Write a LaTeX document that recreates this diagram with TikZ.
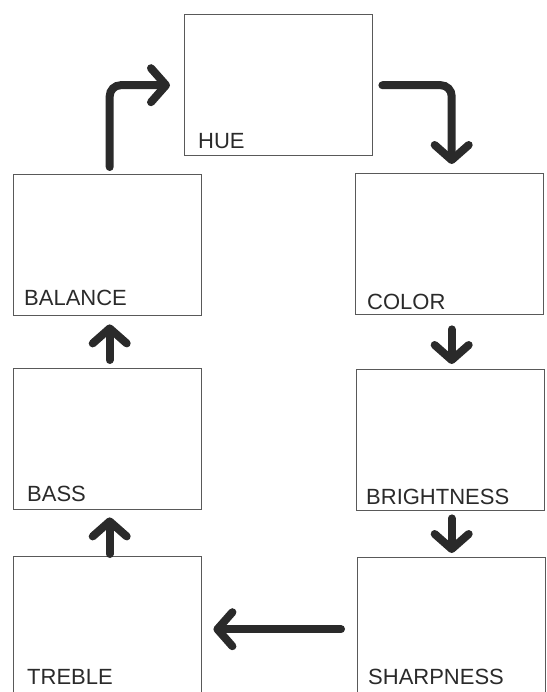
\documentclass[tikz,border=0pt]{standalone}
\usepackage{fontspec}
\setmainfont{Liberation Sans}
\usetikzlibrary{arrows.meta,calc}
\definecolor{boxgray}{gray}{0.35}
\definecolor{ink}{HTML}{2A2A2A}
\tikzset{
  panel/.style={draw=boxgray, line width=1.4pt, minimum width=188pt, minimum height=141pt, anchor=north west, inner sep=0pt},
  lbl/.style={anchor=base west, inner sep=0pt, text=ink, font=\fontsize{22}{24}\selectfont},
  arr/.style={draw=ink, line width=8pt, line cap=round, rounded corners=11pt,
    -{Straight Barb[length=15pt,width=34pt,line cap=round,line join=round]}}
}
\begin{document}
\begin{tikzpicture}[x=1pt,y=-1pt]
\useasboundingbox (0,0) rectangle (546,692);
\clip (0,0) rectangle (546,692);
% panels
\node[panel] (hue) at (184,14) {};
\node[panel] (bal) at (13,174) {};
\node[panel] (col) at (355,173) {};
\node[panel] (bass) at (13,368) {};
\node[panel] (bri) at (356,369) {};
\node[panel] (tre) at (13,556) {};
\node[panel] (sha) at (357,557) {};
% labels
\node[lbl] (lhue) at ($(hue.south west)+(14,-8)$) {HUE};
\node[lbl] (lbal) at ($(bal.south west)+(11,-11)$) {BALANCE};
\node[lbl] (lcol) at ($(col.south west)+(12,-6)$) {COLOR};
\node[lbl] (lbass) at ($(bass.south west)+(14,-9)$) {BASS};
\node[lbl] (lbri) at ($(bri.south west)+(10,-7)$) {BRIGHTNESS};
\node[lbl] (ltre) at ($(tre.south west)+(14,-14)$) {TREBLE};
\node[lbl] (lsha) at ($(sha.south west)+(11,-15)$) {SHARPNESS};
% connectors
\draw[arr] ([xshift=2pt,yshift=7pt]bal.north) |- ([xshift=-14pt]hue.west);
\draw[arr] ([xshift=9pt]hue.east) -| ([xshift=2pt,yshift=9pt]col.north);
\draw[arr] ([xshift=2pt,yshift=8pt]bass.north) -- ([xshift=2pt,yshift=-8pt]bal.south);
\draw[arr] ([xshift=2pt,yshift=-14pt]col.south) -- ([xshift=1pt,yshift=5pt]bri.north);
\draw[arr] ([xshift=2pt,yshift=2pt]tre.north) -- ([xshift=2pt,yshift=-7pt]bass.south);
\draw[arr] ([xshift=1pt,yshift=-7pt]bri.south) -- ([yshift=4pt]sha.north);
\draw[arr] ([xshift=-16pt,yshift=-1pt]sha.west) -- ([xshift=11pt,yshift=-2pt]tre.east);
\end{tikzpicture}
\end{document}
